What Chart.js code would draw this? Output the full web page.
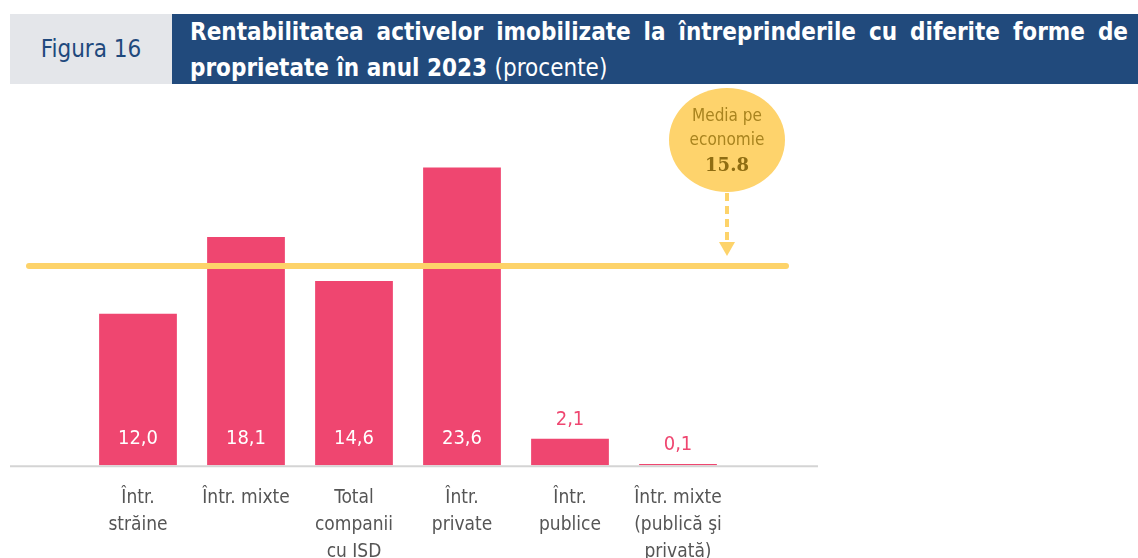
<!DOCTYPE html>
<html>
<head>
<meta charset="utf-8">
<script src="https://cdn.jsdelivr.net/npm/chart.js@4.4.0/dist/chart.umd.min.js"></script>
<style>
  body { margin: 0; width: 1138px; height: 558px; background: #fff; position: relative; overflow: hidden; }
  #fig { position: absolute; left: 10px; top: 14px; width: 162px; height: 70px; background: #e4e6ea;
         color: #1f497d; font: 24px "Liberation Sans Narrow", "DejaVu Sans Condensed", sans-serif;
         display: flex; align-items: center; justify-content: center; }
  #title { position: absolute; left: 172px; top: 14px; width: 938px; height: 70px; padding: 0 10px 0 18px;
           background: #214a7c; color: #fff; font: bold 24px/36px "Liberation Sans Narrow", "DejaVu Sans Condensed", sans-serif;
           text-align: justify; text-align-last: left; box-sizing: content-box; }
  #title span { font-weight: normal; }
  #wrap { position: absolute; left: 0; top: 0; width: 1138px; height: 579px; }
</style>
</head>
<body>
<canvas id="wrap" width="1138" height="579"></canvas>
<div id="fig">Figura 16</div>
<div id="title">Rentabilitatea activelor imobilizate la întreprinderile cu diferite forme de proprietate în anul 2023 <span>(procente)</span></div>
<script>
const categories = [
    ['Într.', 'străine'],
    ['Într. mixte'],
    ['Total', 'companii', 'cu ISD'],
    ['Într.', 'private'],
    ['Într.', 'publice'],
    ['Într. mixte', '(publică şi', 'privată)']
];
const values = [12.0, 18.1, 14.6, 23.6, 2.1, 0.1];
const valueLabels = ['12,0', '18,1', '14,6', '23,6', '2,1', '0,1'];
const average = 15.8;
const averageLabel = ['Media pe', 'economie', '15.8'];

const pink = '#ef4670';
const gold = '#fdd36a';

// baseline, average line and bubble
const extras = {
    id: 'extras',
    beforeDatasetsDraw(chart) {
        const ctx = chart.ctx;
        const y0 = chart.scales.y.getPixelForValue(0);
        ctx.save();
        ctx.strokeStyle = '#d4d4d4';
        ctx.lineWidth = 2;
        ctx.beginPath();
        ctx.moveTo(10, y0 + 1);
        ctx.lineTo(818, y0 + 1);
        ctx.stroke();
        ctx.restore();
    },
    afterDatasetsDraw(chart) {
        const ctx = chart.ctx;
        const meta = chart.getDatasetMeta(0);
        const ya = chart.scales.y.getPixelForValue(average);

        ctx.save();
        // value labels
        ctx.font = '20px "Liberation Sans Narrow", "DejaVu Sans Condensed", sans-serif';
        ctx.textAlign = 'center';
        ctx.textBaseline = 'middle';
        meta.data.forEach((bar, i) => {
            if (values[i] > 5) {
                ctx.fillStyle = '#fff';
                ctx.fillText(valueLabels[i], bar.x, bar.base - 26);
            } else {
                ctx.fillStyle = pink;
                ctx.fillText(valueLabels[i], bar.x, bar.y - 19);
            }
        });

        // average line
        ctx.strokeStyle = gold;
        ctx.lineWidth = 6;
        ctx.lineCap = 'round';
        ctx.beginPath();
        ctx.moveTo(29, ya);
        ctx.lineTo(786, ya);
        ctx.stroke();

        // bubble
        const bx = 727, by = 140;
        ctx.fillStyle = '#fed36c';
        ctx.beginPath();
        ctx.ellipse(bx, by, 58, 52, 0, 0, Math.PI * 2);
        ctx.fill();
        ctx.fillStyle = '#a9841f';
        ctx.font = '17px "DejaVu Sans Condensed", "Liberation Sans Narrow", sans-serif';
        ctx.fillText(averageLabel[0], bx, by - 23);
        ctx.fillText(averageLabel[1], bx, by + 1);
        ctx.font = 'bold 18px "DejaVu Serif", "Liberation Serif", serif';
        ctx.fillStyle = '#8f6d12';
        ctx.fillText(averageLabel[2], bx, by + 26);

        // dashed arrow
        ctx.strokeStyle = gold;
        ctx.lineWidth = 4;
        ctx.lineCap = 'butt';
        ctx.setLineDash([8, 5]);
        ctx.beginPath();
        ctx.moveTo(bx, by + 53);
        ctx.lineTo(bx, ya - 20);
        ctx.stroke();
        ctx.setLineDash([]);
        ctx.fillStyle = gold;
        ctx.beginPath();
        ctx.moveTo(bx - 8, ya - 24);
        ctx.lineTo(bx + 8, ya - 24);
        ctx.lineTo(bx, ya - 10);
        ctx.closePath();
        ctx.fill();
        ctx.restore();
    }
};

new Chart(document.getElementById('wrap'), {
    type: 'bar',
    data: {
        labels: categories,
        datasets: [{
            data: values,
            backgroundColor: pink,
            barPercentage: 0.72,
            categoryPercentage: 1
        }]
    },
    options: {
        responsive: false,
        animation: false,
        layout: { padding: { left: 84, right: 406, top: 112, bottom: 2 } },
        plugins: { legend: { display: false }, tooltip: { enabled: false } },
        scales: {
            x: {
                grid: { display: false },
                border: { display: false },
                ticks: {
                    color: '#555',
                    maxRotation: 0,
                    autoSkip: false,
                    padding: 12,
                    font: { family: '"Liberation Sans Narrow", "DejaVu Sans Condensed", sans-serif', size: 19, lineHeight: 1.4 }
                }
            },
            y: { display: false, min: 0, max: 28 }
        }
    },
    plugins: [extras]
});
</script>
</body>
</html>
